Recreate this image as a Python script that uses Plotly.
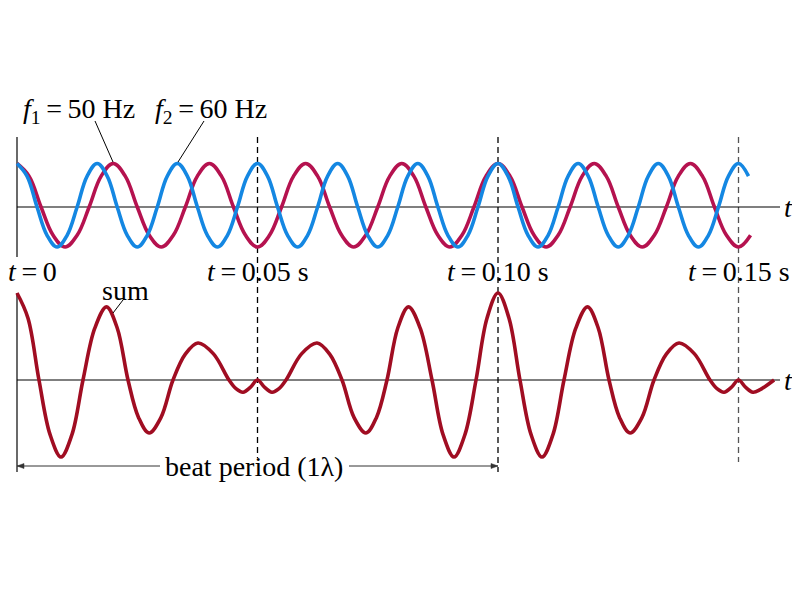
import plotly.graph_objects as go

# ---------------- data ----------------
F1_HZ = 50
F2_HZ = 60

# 50 Hz wave, readings every 2.5 ms starting at t = 0
F1_T0 = 0.0
F1_STEP = 0.0025
F1_VALUES = [
    1.0, 0.71, 0.0, -0.65, -0.92, -0.65, 0.0, 0.71,
    1.0, 0.71, 0.0, -0.65, -0.92, -0.65, 0.0, 0.71,
    1.0, 0.71, 0.0, -0.65, -0.92, -0.65, 0.0, 0.71,
    1.0, 0.71, 0.0, -0.65, -0.92, -0.65, 0.0, 0.71,
    1.0, 0.71, 0.0, -0.65, -0.92, -0.65, 0.0, 0.71,
    1.0, 0.71, 0.0, -0.65, -0.92, -0.65, 0.0, 0.71,
    1.0, 0.71, 0.0, -0.65, -0.92, -0.65, 0.0, 0.71,
    1.0, 0.71, 0.0, -0.65, -0.92, -0.65,
]

# 60 Hz wave, readings every 1/480 s starting at t = 0
F2_T0 = 0.0
F2_STEP = 1 / 480
F2_VALUES = [
    1.0, 0.71, 0.0, -0.65, -0.92, -0.65, 0.0, 0.71,
    1.0, 0.71, 0.0, -0.65, -0.92, -0.65, 0.0, 0.71,
    1.0, 0.71, 0.0, -0.65, -0.92, -0.65, 0.0, 0.71,
    1.0, 0.71, 0.0, -0.65, -0.92, -0.65, 0.0, 0.71,
    1.0, 0.71, 0.0, -0.65, -0.92, -0.65, 0.0, 0.71,
    1.0, 0.71, 0.0, -0.65, -0.92, -0.65, 0.0, 0.71,
    1.0, 0.71, 0.0, -0.65, -0.92, -0.65, 0.0, 0.71,
    1.0, 0.71, 0.0, -0.65, -0.92, -0.65, 0.0, 0.71,
    1.0, 0.71, 0.0, -0.65, -0.92, -0.65, 0.0, 0.71,
    1.0, 0.71,
]

# sum wave (time in s, value)
SUM_T = [
    0.0, 0.00229, 0.00457, 0.00686, 0.00915, 0.01144, 0.01372, 0.01617,
    0.01861, 0.02085, 0.02308, 0.02526, 0.02744, 0.02994, 0.03243, 0.03503,
    0.03763, 0.04085, 0.04407, 0.04553, 0.04699, 0.0485, 0.05,
    0.0515, 0.05301, 0.05447, 0.05593, 0.05915, 0.06237, 0.06497, 0.06757,
    0.07006, 0.07256, 0.07474, 0.07692, 0.07915, 0.08139, 0.08383, 0.08628,
    0.08856, 0.09085, 0.09314, 0.09543, 0.09771, 0.10,
    0.10229, 0.10457, 0.10686, 0.10915, 0.11144, 0.11372, 0.11617,
    0.11861, 0.12085, 0.12308, 0.12526, 0.12744, 0.12994, 0.13243, 0.13503,
    0.13763, 0.14085, 0.14407, 0.14553, 0.14699, 0.1485, 0.15,
    0.1515, 0.15301, 0.1545, 0.1574,
]
SUM_V = [
    2.0, 1.42, 0.0, -1.25, -1.77, -1.25, 0.0, 1.19,
    1.68, 1.19, 0.0, -0.86, -1.22, -0.86, 0.0, 0.6,
    0.85, 0.6, 0.0, -0.2, -0.28, -0.17, 0.0,
    -0.17, -0.28, -0.2, 0.0, 0.6, 0.85, 0.6, 0.0,
    -0.86, -1.22, -0.86, 0.0, 1.19, 1.68, 1.19, 0.0,
    -1.25, -1.77, -1.25, 0.0, 1.42, 2.0,
    1.42, 0.0, -1.25, -1.77, -1.25, 0.0, 1.19,
    1.68, 1.19, 0.0, -0.86, -1.22, -0.86, 0.0, 0.6,
    0.85, 0.6, 0.0, -0.2, -0.28, -0.17, 0.0,
    -0.17, -0.28, -0.22, 0.0,
]

TS = "\u2009"  # thin space
MARK_T = [0.05, 0.10, 0.15]
MARK_LABELS = ["<i>t</i>" + TS + "=" + TS + "0.05 s",
               "<i>t</i>" + TS + "=" + TS + "0.10 s",
               "<i>t</i>" + TS + "=" + TS + "0.15 s"]
START_LABEL = "<i>t</i>" + TS + "=" + TS + "0"
BEAT_PERIOD_T = [0.0, 0.10]
BEAT_LABEL = "beat period (1λ)"
F1_LABEL = "<i>f</i><sub>1</sub>" + TS + "=" + TS + "%d Hz" % F1_HZ
F2_LABEL = "<i>f</i><sub>2</sub>" + TS + "=" + TS + "%d Hz" % F2_HZ
SUM_LABEL = "sum"
AXIS_LABEL = "<i>t</i>"

# ---------------- layout / style ----------------
W, H = 800, 600
PAGE_OFF = 8.0        # page margin around the figure (window px)
X0_PX = 17.0          # window pixel of t = 0
PX_PER_S = 4810.0
TOP_AXIS_PX = 207.0   # window pixel of top baseline
BOT_AXIS_PX = 380.0   # window pixel of bottom baseline
PX_PER_UNIT = 43.5

BLUE = "#1487e2"
MAGENTA = "#b5124f"
SUMRED = "#a00d22"
FONT = "Liberation Serif, Times New Roman, serif"
FS = 28


def t_of(wx):
    return (wx - X0_PX) / PX_PER_S


def px(wx):
    return (wx - PAGE_OFF) / W


def py(wy):
    return 1 - (wy - PAGE_OFF) / H


def yrange(axis_px):
    top = (axis_px - PAGE_OFF) / PX_PER_UNIT
    bottom = (axis_px - PAGE_OFF - H) / PX_PER_UNIT
    return [bottom, top]


fig = go.Figure()
fig.add_trace(go.Scatter(
    x0=F1_T0, dx=F1_STEP, y=F1_VALUES, mode="lines",
    line=dict(color=MAGENTA, width=3.6, shape="spline", smoothing=1.1),
    yaxis="y", hoverinfo="skip"))
fig.add_trace(go.Scatter(
    x0=F2_T0, dx=F2_STEP, y=F2_VALUES, mode="lines",
    line=dict(color=BLUE, width=3.6, shape="spline", smoothing=1.1),
    yaxis="y", hoverinfo="skip"))
fig.add_trace(go.Scatter(
    x=SUM_T, y=SUM_V, mode="lines",
    line=dict(color=SUMRED, width=3.6, shape="spline", smoothing=1.0),
    yaxis="y2", hoverinfo="skip"))

shapes = []
# horizontal time axes
shapes.append(dict(type="line", xref="x", yref="y", x0=0, x1=t_of(780), y0=0, y1=0,
                   layer="below", line=dict(color="black", width=1.2)))
shapes.append(dict(type="line", xref="x", yref="y2", x0=0, x1=t_of(780), y0=0, y1=0,
                   layer="below", line=dict(color="black", width=1.2)))
# solid vertical line at t = 0
shapes.append(dict(type="line", xref="x", yref="paper", x0=0, x1=0, y0=py(137), y1=py(257),
                   layer="below", line=dict(color="#444", width=1.6)))
shapes.append(dict(type="line", xref="x", yref="paper", x0=0, x1=0, y0=py(293), y1=py(472),
                   layer="below", line=dict(color="#444", width=1.6)))
# dashed markers
ends = [458, 472, 462]
cols = ["black", "black", "#555"]
for t, e, c in zip(MARK_T, ends, cols):
    shapes.append(dict(type="line", xref="x", yref="paper", x0=t, x1=t, y0=py(137), y1=py(e),
                       layer="below", line=dict(color=c, width=1.3, dash="6px,4px")))
# leader lines
for (a, b, c, d) in [(95, 121, 113, 162), (204, 121, 178, 162), (123, 300, 113, 313)]:
    shapes.append(dict(type="line", xref="paper", yref="paper", x0=px(a), y0=py(b), x1=px(c), y1=py(d),
                       line=dict(color="black", width=1)))
# beat period arrow: line segments either side of the label + small heads
BEAT_Y = 466
for (xa, xb) in [(t_of(X0_PX), t_of(160)), (t_of(349), BEAT_PERIOD_T[1])]:
    shapes.append(dict(type="line", xref="x", yref="paper", x0=xa, x1=xb, y0=py(BEAT_Y), y1=py(BEAT_Y),
                       line=dict(color="#333", width=1)))
for tip_t, direction in [(BEAT_PERIOD_T[0], 1), (BEAT_PERIOD_T[1], -1)]:
    tip_w = X0_PX + tip_t * PX_PER_S
    base_w = tip_w + direction * 7
    path = "M {} {} L {} {} L {} {} Z".format(
        px(tip_w), py(BEAT_Y), px(base_w), py(BEAT_Y - 2.5), px(base_w), py(BEAT_Y + 2.5))
    shapes.append(dict(type="path", xref="paper", yref="paper", path=path,
                       fillcolor="#333", line=dict(color="#333", width=0.5)))

ann = []
font = dict(family=FONT, size=FS, color="black")
label_y = py(271)
ann.append(dict(x=px(32), xref="paper", y=label_y, yref="paper", text=START_LABEL, showarrow=False,
                xanchor="center", yanchor="middle", font=font))
for t, lab in zip(MARK_T, MARK_LABELS):
    ann.append(dict(x=t, xref="x", y=label_y, yref="paper", text=lab, showarrow=False,
                    xanchor="center", yanchor="middle", font=font))
ann.append(dict(x=px(79), xref="paper", y=py(110), yref="paper", text=F1_LABEL, showarrow=False,
                xanchor="center", yanchor="middle", font=font))
ann.append(dict(x=px(211), xref="paper", y=py(110), yref="paper", text=F2_LABEL, showarrow=False,
                xanchor="center", yanchor="middle", font=font))
ann.append(dict(x=px(125), xref="paper", y=py(290), yref="paper", text=SUM_LABEL, showarrow=False,
                xanchor="center", yanchor="middle", font=font))
ann.append(dict(x=px(254), xref="paper", y=py(466), yref="paper",
                text=BEAT_LABEL, showarrow=False, xanchor="center", yanchor="middle", font=font))
for axref in ["y", "y2"]:
    ann.append(dict(x=t_of(788), xref="x", y=0, yref=axref, text=AXIS_LABEL, showarrow=False,
                    xanchor="center", yanchor="middle", font=font))

fig.update_layout(
    width=W, height=H,
    margin=dict(l=0, r=0, t=0, b=0),
    paper_bgcolor="white", plot_bgcolor="white",
    showlegend=False,
    xaxis=dict(range=[t_of(PAGE_OFF), t_of(PAGE_OFF + W)], visible=False, fixedrange=True),
    yaxis=dict(range=yrange(TOP_AXIS_PX), visible=False, fixedrange=True),
    yaxis2=dict(range=yrange(BOT_AXIS_PX), overlaying="y", visible=False, fixedrange=True),
    shapes=shapes,
    annotations=ann,
)

fig.write_html("out.html")
